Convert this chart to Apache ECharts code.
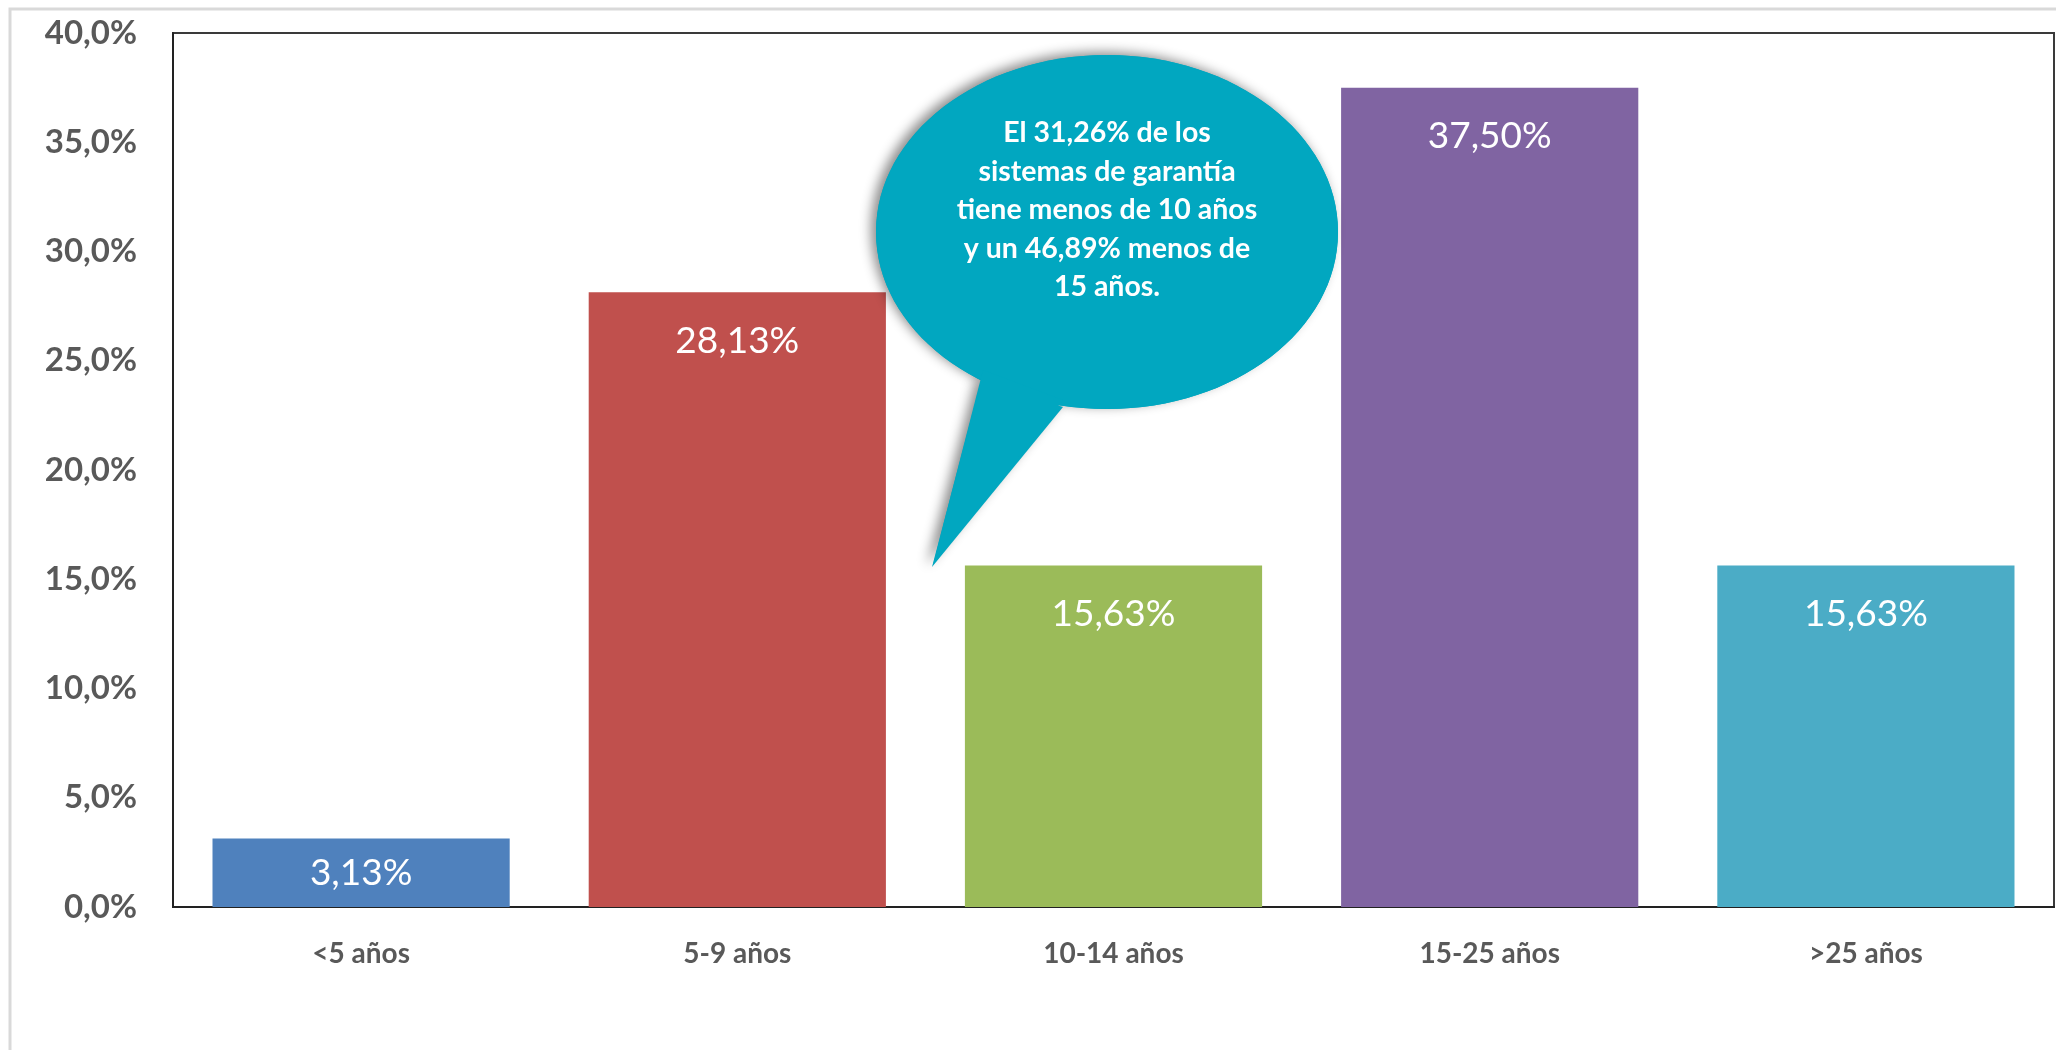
<!DOCTYPE html>
<html>
<head>
<meta charset="utf-8">
<script src="https://cdn.jsdelivr.net/npm/echarts@6/dist/echarts.min.js"></script>
<style>
html,body{margin:0;padding:0;background:#fff;}
#chart{width:2056px;height:1050px;}
</style>
</head>
<body>
<div id="chart"></div>
<script>
const categories = ['<5 años', '5-9 años', '10-14 años', '15-25 años', '>25 años'];
const values = [3.13, 28.13, 15.63, 37.50, 15.63];
const barColors = ['#4F81BD', '#C0504D', '#9BBB59', '#8064A2', '#4BACC6'];
const yTicks = { min: 0, max: 40, interval: 5 };
const calloutLines = [
  'El 31,26% de los',
  'sistemas de garantía',
  'tiene menos de 10 años',
  'y un 46,89% menos de',
  '15 años.'
];

const chart = echarts.init(document.getElementById('chart'));
const FONT = 'Lato, "Open Sans", sans-serif';
const calloutColor = '#01A7C0';

const option = {
  animation: false,
  backgroundColor: '#fff',
  grid: {
    left: 173, top: 33, right: 2, bottom: 143,
    show: true, borderColor: '#3a3a3a', borderWidth: 2, backgroundColor: 'transparent'
  },
  xAxis: {
    type: 'category',
    data: categories,
    axisLine: { show: true, lineStyle: { color: '#222', width: 2 } },
    axisTick: { show: false },
    axisLabel: { margin: 33, color: '#595959', fontFamily: FONT, fontWeight: 'bold', fontSize: 28 }
  },
  yAxis: {
    type: 'value',
    min: yTicks.min, max: yTicks.max, interval: yTicks.interval,
    splitLine: { show: false },
    axisLine: { show: true, lineStyle: { color: '#222', width: 2 } },
    axisTick: { show: false },
    axisLabel: {
      margin: 36, color: '#595959', fontFamily: FONT, fontWeight: 'bold', fontSize: 33,
      formatter: v => v.toFixed(1).replace('.', ',') + '%'
    }
  },
  series: [{
    type: 'bar',
    barWidth: '79%',
    data: values.map((v, i) => ({
      value: v,
      itemStyle: { color: barColors[i] },
      label: i === 0 ? { position: 'inside' } : {}
    })),
    label: {
      show: true,
      position: 'insideTop',
      distance: 30,
      color: '#fff',
      fontFamily: FONT,
      fontSize: 37,
      formatter: p => p.value.toFixed(2).replace('.', ',') + '%'
    }
  }],
  graphic: [
    { type: 'rect', silent: true, z: -10,
      shape: { x: 10, y: 9, width: 2100, height: 1100 },
      style: { fill: 'transparent', stroke: '#d9d9d9', lineWidth: 3 } },
    { type: 'ellipse', z: 10, silent: true,
      shape: { cx: 1107, cy: 232, rx: 231, ry: 177 },
      style: { fill: calloutColor, shadowBlur: 12, shadowColor: 'rgba(0,0,0,0.45)', shadowOffsetX: -5, shadowOffsetY: -3 } },
    { type: 'polygon', z: 11, silent: true,
      shape: { points: [[981, 381], [1063, 407], [932, 567]] },
      style: { fill: calloutColor, shadowBlur: 12, shadowColor: 'rgba(0,0,0,0.45)', shadowOffsetX: -5, shadowOffsetY: -2 } },
    { type: 'ellipse', z: 12, silent: true,
      shape: { cx: 1107, cy: 232, rx: 231, ry: 177 },
      style: { fill: calloutColor } },
    { type: 'polygon', z: 12, silent: true,
      shape: { points: [[983, 370], [1063, 400], [933, 565]] },
      style: { fill: calloutColor } },
    { type: 'text', z: 13, silent: true,
      x: 1107, y: 210,
      style: {
        text: calloutLines.join('\n'),
        fill: '#fff',
        font: 'bold 28.5px ' + FONT,
        align: 'center',
        verticalAlign: 'middle',
        lineHeight: 38.5
      } }
  ]
};
chart.setOption(option);
</script>
</body>
</html>
